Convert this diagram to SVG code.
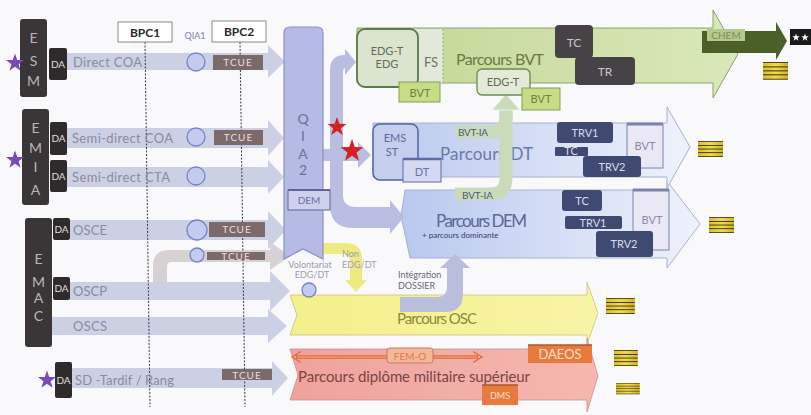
<svg xmlns="http://www.w3.org/2000/svg" width="811" height="415" viewBox="0 0 811 415">
<defs>
<linearGradient id="gGreen" x1="0" x2="1" y1="0" y2="0"><stop offset="0" stop-color="#c2d795"/><stop offset="1" stop-color="#d9e8b9"/></linearGradient>
<linearGradient id="gBlue" x1="0" x2="1" y1="0" y2="0"><stop offset="0" stop-color="#b8c8ee"/><stop offset="1" stop-color="#eef2fb"/></linearGradient>
<linearGradient id="gPink" x1="0" x2="1" y1="0" y2="0"><stop offset="0" stop-color="#efa29e"/><stop offset="1" stop-color="#f5b8b0"/></linearGradient>
<linearGradient id="gYellow" x1="0" x2="1" y1="0" y2="0"><stop offset="0" stop-color="#f4f08a"/><stop offset="1" stop-color="#f8f4a6"/></linearGradient>
<linearGradient id="gGal" x1="0" x2="1" y1="0" y2="0"><stop offset="0" stop-color="#d8be28"/><stop offset="0.5" stop-color="#f0dc50"/><stop offset="1" stop-color="#d0b424"/></linearGradient>
<path id="star" d="M0,-10 L2.35,-3.24 L9.51,-3.09 L3.8,1.24 L5.88,8.09 L0,4 L-5.88,8.09 L-3.8,1.24 L-9.51,-3.09 L-2.35,-3.24 Z"/>
<g id="galon">
<rect x="0" y="0" width="25" height="16" fill="url(#gGal)"/>
<rect x="0" y="0" width="25" height="0.8" fill="#3a3010"/>
<rect x="0" y="4" width="25" height="0.9" fill="#3a3010"/>
<rect x="0" y="7.6" width="25" height="0.9" fill="#3a3010"/>
<rect x="0" y="11.2" width="25" height="0.9" fill="#3a3010"/>
<rect x="0" y="15.2" width="25" height="0.8" fill="#3a3010"/>
</g>
</defs>
<style>
text{font-family:Lato,"Open Sans","DejaVu Sans",sans-serif}
.row{fill:#ccd0e5}
.lbl{fill:#8a8b9e;font-size:13px}
.blk{fill:#3a3536}
.da{fill:#2f2b2c}
.dat{fill:#e2dede;font-size:10px}
.let{fill:#bdb6b6;font-size:14px;text-anchor:middle}
.tcue{fill:#7c6a6b}
.tcuet{fill:#e8dede;font-size:10px;letter-spacing:1px;text-anchor:middle}
.circ{fill:#c3cbef;stroke:#7584c6;stroke-width:1.3}
.dash{stroke:#3a3a3a;stroke-width:1;stroke-dasharray:2 1.5;fill:none}
.bpc{fill:#ffffff;stroke:#8a8a8a;stroke-width:1}
.bpct{fill:#2a2a2a;font-size:12px;font-weight:bold;text-anchor:middle}
.navy{fill:#3f4a72}
.navyt{fill:#d8dcec;font-size:11px;text-anchor:middle}
.doc{fill:#e9e8f4;stroke:#7c82ac;stroke-width:1}
.doct{fill:#8a8aa8;font-size:11px;text-anchor:middle}
.gdoc{fill:#c7dc86;stroke:#86a050;stroke-width:1}
.gdoct{fill:#6f7f45;font-size:11px;text-anchor:middle}
.gray{fill:#474246}
.grayt{fill:#cbc4ca;font-size:12px;text-anchor:middle}
.orng{fill:#e97a3b}
.lav{fill:#b9bde1}
.c{text-anchor:middle}
</style>
<rect x="0" y="0" width="811" height="415" fill="#f9f9fb"/>

<!-- Parcours DEM -->
<g id="parcours-dem">
<path d="M405,190 H667 V181 L700,224 L667,268 V258 H410 L401,216 Z" fill="url(#gBlue)" stroke="#a8b0cf" stroke-width="1"/>
<text x="436" y="227" font-size="17" fill="#5a6898" textLength="91">Parcours DEM</text>
<text x="422" y="238" font-size="8" fill="#3a3a6a">+ parcours dominante</text>
<rect x="562" y="190" width="40" height="21" rx="3" class="navy"/>
<text x="582" y="205" class="navyt">TC</text>
<rect x="565" y="216" width="57" height="13" rx="2" class="navy"/>
<text x="593" y="226.5" class="navyt" font-size="10">TRV1</text>
<rect x="633" y="190" width="36" height="60" class="doc"/>
<path d="M633,190 h36" stroke="#7c82ac" stroke-width="3"/>
<text x="652" y="224" class="doct">BVT</text>
<rect x="596" y="231" width="57" height="26" rx="3" class="navy"/>
<text x="624" y="248" class="navyt" font-size="12">TRV2</text>
</g>

<!-- Parcours DT -->
<g id="parcours-dt">
<path d="M373,123 H667 V107 L690,147 L667,188 V177 H373 Z" fill="url(#gBlue)" stroke="#a8b0cf" stroke-width="1"/>
<text x="440" y="160" font-size="17" fill="#6a78a8" textLength="93">Parcours DT</text>
<rect x="557" y="122" width="56" height="21" rx="3" class="navy"/>
<text x="585" y="137" class="navyt" font-size="12">TRV1</text>
<rect x="555" y="147" width="33" height="9" rx="1" class="navy"/>
<text x="571" y="155" class="navyt" font-size="8">TC</text>
<rect x="627" y="124" width="36" height="44" class="doc"/>
<path d="M627,124 h36" stroke="#7c82ac" stroke-width="3"/>
<text x="645" y="150" class="doct">BVT</text>
<rect x="583" y="156" width="58" height="21" rx="3" class="navy"/>
<text x="612" y="171" class="navyt" font-size="12">TRV2</text>
</g>

<!-- Parcours BVT -->
<g id="parcours-bvt">
<path d="M357,28 H713 V10 L738,54 L713,98 V83 H357 Z" fill="url(#gGreen)" stroke="#8fa070" stroke-width="1"/>
<text x="456" y="65" font-size="16" fill="#6c7a40" textLength="88">Parcours BVT</text>
<rect x="555" y="25" width="38" height="33" rx="4" class="gray"/>
<text x="574" y="47" class="grayt">TC</text>
<rect x="575" y="57" width="60" height="28" rx="4" class="gray"/>
<text x="605" y="76" class="grayt">TR</text>
</g>

<!-- CHEM -->
<g id="chem">
<path d="M702,31 H776 V22 L787,41 L776,60 V53 H702 Z" fill="#4b5f29"/>
<rect x="707" y="29" width="38" height="12" fill="#b5c98d"/>
<text x="726" y="39" font-size="10" fill="#7d8c55" class="c">CHEM</text>
<rect x="790" y="29" width="21" height="16" fill="#1a1a1a"/>
<use href="#star" transform="translate(796,37.5) scale(0.4)" fill="#ffffff"/>
<use href="#star" transform="translate(805,37.5) scale(0.4)" fill="#ffffff"/>
</g>

<!-- Parcours OSC -->
<g id="parcours-osc">
<path d="M290,295 H587 V282 L598,313 L587,344 V335 H290 L297,315 Z" fill="url(#gYellow)" stroke="#c9c27a" stroke-width="0.8"/>
<text x="437" y="324" font-size="15" fill="#8c8a3c" class="c" textLength="80">Parcours OSC</text>
</g>

<!-- Parcours diplome militaire superieur -->
<g id="parcours-dms">
<path d="M290,349 H587 V338 L598,376 L587,412 V400 H290 L298,375 Z" fill="url(#gPink)" stroke="#c9908a" stroke-width="0.8"/>
<text x="298" y="382" font-size="15" fill="#7a4444" textLength="232">Parcours diplôme militaire supérieur</text>
</g>

<!-- connectors -->
<g id="connectors">
<path class="lav" d="M330,205 V70 Q330,55 345,55 V49 L356,62 L345,75 V68 Q343,68 343,72 V195 Q343,207 356,207 H390 V200 L404,217 L390,234 V228 H353 Q330,228 330,205 Z"/>
<path class="lav" d="M323,149 H358 V142 L371,155 L358,168 V161 H323 Z"/>
<path fill="#eeea80" d="M323,243 H345 Q362,243 362,258 V280 H367 L356,292 L345,280 H350 V262 Q350,254 343,254 H323 Z"/>
<path fill="#babedd" d="M400,312 H445 Q463,312 463,294 V268 H470 L455,254 L440,268 H447 V286 Q447,297 437,297 H400 Z"/>
<path d="M455,132 H490 Q506,132 506,116 V108" fill="none" stroke="#c9dbb9" stroke-width="13"/>
<path d="M455,194 H490 Q506,194 506,178 V108" fill="none" stroke="#c9dbb9" stroke-width="13"/>
<polygon points="492,110 506,94 520,110" fill="#c9dbb9" stroke="#eef3e8" stroke-width="1"/>
</g>
<text x="458" y="136" font-size="10" fill="#4d5882" textLength="30">BVT-IA</text>
<text x="462" y="199" font-size="10" fill="#4d5882" textLength="31">BVT-IA</text>

<!-- EMS ST and DT -->
<g id="ems-st">
<rect x="373" y="124" width="45" height="56" rx="7" fill="#c4cfee" stroke="#5463a2" stroke-width="1.5"/>
<text x="395" y="142" font-size="11" fill="#5a6a9a" class="c">EMS</text>
<text x="392" y="156" font-size="11" fill="#5a6a9a" class="c">ST</text>
</g>
<g id="dt-doc">
<rect x="403" y="159" width="38" height="23" fill="#d3d9f0" stroke="#5e6aa6" stroke-width="1"/>
<path d="M403,159 h38" stroke="#5e6aa6" stroke-width="2.5"/>
<text x="422" y="176" font-size="11" fill="#6a74a4" class="c">DT</text>
</g>

<!-- EDG boxes -->
<g id="fs">
<rect x="410" y="29" width="33" height="54" fill="#e3e9da"/>
<path d="M443,29 V83" stroke="#9aa88a" stroke-width="1" stroke-dasharray="2 2"/>
<text x="431" y="67" font-size="13" fill="#6a7560" class="c">FS</text>
</g>
<g id="edg">
<rect x="357" y="29" width="61" height="58" rx="8" fill="#dbe4cf" stroke="#5b7a45" stroke-width="1.8"/>
<text x="387" y="55" font-size="11" fill="#5f6d55" class="c">EDG-T</text>
<text x="387" y="68" font-size="11" fill="#5f6d55" class="c">EDG</text>
</g>
<g id="bvt-doc-1">
<rect x="399" y="82" width="41" height="20" class="gdoc"/>
<text x="420" y="97" class="gdoct">BVT</text>
</g>
<g id="edg-t">
<rect x="477" y="69" width="53" height="26" rx="5" fill="#e3ebd8" stroke="#6a8a50" stroke-width="1.3"/>
<text x="503" y="86" font-size="11" fill="#5f6d55" class="c">EDG-T</text>
</g>
<g id="bvt-doc-2">
<rect x="522" y="88" width="38" height="22" class="gdoc"/>
<text x="541" y="103" class="gdoct">BVT</text>
</g>

<!-- FEM-O, DAEOS, DMS -->
<g id="fem-o">
<path d="M296,357 H478" stroke="#e06a30" stroke-width="3.4"/>
<path d="M297,357 H477" stroke="#f3b0a6" stroke-width="1.2"/>
<polyline points="301,351.5 292,357 301,362.5" fill="none" stroke="#e06a30" stroke-width="1.3"/>
<polyline points="473,351.5 482,357 473,362.5" fill="none" stroke="#e06a30" stroke-width="1.3"/>
<rect x="387" y="348" width="46" height="15" rx="3" fill="#f2b898" stroke="#c87860" stroke-width="1"/>
<text x="410" y="359.5" font-size="10" fill="#e07848" class="c">FEM-O</text>
</g>
<g id="daeos">
<rect x="528" y="345" width="64" height="18" class="orng"/>
<path d="M528,345 h64" stroke="#a85a30" stroke-width="1.5"/>
<text x="560" y="359" font-size="13" fill="#fbe0d0" class="c">DAEOS</text>
</g>
<g id="dms">
<rect x="482" y="385" width="36" height="20" class="orng"/>
<path d="M482,385 h36" stroke="#a85a30" stroke-width="1.5"/>
<text x="500" y="399" font-size="9" fill="#fbe0d0" class="c">DMS</text>
</g>

<!-- row arrows -->
<g id="rows">
<path class="row" d="M67,53 H268 V45 L285,61.5 L268,78 V70 H67 Z"/>
<path class="row" d="M67,128 H268 V120 L284,138 L268,156 V148 H67 Z"/>
<path class="row" d="M67,167 H268 V160 L284,177 L268,194 V187 H67 Z"/>
<path class="row" d="M70,220 H268 V211 L286,230 L268,249 V240 H70 Z"/>
<path class="row" d="M70,282 H270 V271 L290,291 L270,311 V300 H70 Z"/>
<path fill="#d8d1d3" d="M153,282 V266 Q153,250 169,250 H270 V242 L290,256 L270,270 V262 H172 Q167,262 167,267 V282 Z"/>
<path class="row" d="M52,317 H268 V309 L287,326 L268,343 V335 H52 Z"/>
<path class="row" d="M72,368 H272 V361 L288,378 L272,396 V388 H72 Z"/>
</g>

<!-- QIA2 column -->
<g id="qia2">
<path d="M290,27 H317 Q323,27 323,33 V259 L303,249 L284,259 V33 Q284,27 290,27 Z" fill="#b5bbe4" stroke="#8990c4" stroke-width="1.2"/>
<text x="303" y="124" font-size="14" fill="#6b709c" class="c">Q</text>
<text x="303" y="141" font-size="14" fill="#6b709c" class="c">I</text>
<text x="303" y="159" font-size="14" fill="#6b709c" class="c">A</text>
<text x="303" y="175" font-size="14" fill="#6b709c" class="c">2</text>
<rect x="288" y="190" width="42" height="20" fill="#cdd1ec" stroke="#5e64a0" stroke-width="1"/>
<path d="M288,190 h42" stroke="#5e64a0" stroke-width="2"/>
<text x="309" y="204" font-size="10" fill="#6b709c" class="c">DEM</text>
<text x="310" y="268" font-size="9" fill="#9c9cb6" class="c">Volontariat</text>
<text x="312" y="278" font-size="9" fill="#9c9cb6" class="c">EDG/DT</text>
<circle cx="309" cy="290" r="7" class="circ"/>
</g>
<text x="342" y="257" font-size="9" fill="#9c9cb6">Non</text>
<text x="342" y="268" font-size="9" fill="#9c9cb6">EDG/DT</text>
<text x="398" y="278" font-size="9" fill="#6a6a7a">Intégration</text>
<text x="398" y="289" font-size="9" fill="#6a6a7a">DOSSIER</text>

<!-- red stars -->
<use href="#star" transform="translate(337,127) scale(1)" fill="#d42222"/>
<use href="#star" transform="translate(352,151) scale(1.2)" fill="#d42222"/>

<!-- dashed lines -->
<path class="dash" d="M145,42 L150,407"/>
<path class="dash" d="M240,42 L245,407"/>

<!-- BPC -->
<g id="bpc1"><rect x="118" y="22" width="54" height="20" class="bpc"/><text x="145" y="37" class="bpct">BPC1</text></g>
<g id="bpc2"><rect x="212" y="21" width="54" height="21" class="bpc"/><text x="239" y="36" class="bpct">BPC2</text></g>
<text x="195" y="39" font-size="9" fill="#7a80b8" class="c">QIA1</text>

<!-- ESM -->
<g id="esm">
<rect x="20" y="19" width="27" height="78" rx="3" class="blk"/>
<text x="33.5" y="43" class="let">E</text>
<text x="33.5" y="66" class="let">S</text>
<text x="33.5" y="86" class="let">M</text>
<rect x="49" y="48" width="18" height="32" rx="2" class="da"/>
<text x="58" y="68" class="dat c">DA</text>
<text x="73" y="67" class="lbl" textLength="69">Direct COA</text>
<circle cx="196" cy="62" r="9" class="circ"/>
<rect x="213" y="55" width="50" height="15" class="tcue"/>
<text x="238" y="66" class="tcuet">TCUE</text>
<use href="#star" transform="translate(15,63) scale(0.95)" fill="#7a48b8"/>
</g>

<!-- EMIA -->
<g id="emia">
<rect x="22" y="109" width="27" height="96" rx="3" class="blk"/>
<text x="35.5" y="133" class="let">E</text>
<text x="35.5" y="153" class="let">M</text>
<text x="35.5" y="172" class="let">I</text>
<text x="35.5" y="195" class="let">A</text>
<rect x="50" y="122" width="17" height="33" rx="2" class="da"/>
<text x="58.5" y="142" class="dat c">DA</text>
<rect x="50" y="160" width="17" height="32" rx="2" class="da"/>
<text x="58.5" y="180" class="dat c">DA</text>
<text x="72" y="143" class="lbl" textLength="101">Semi-direct COA</text>
<text x="72" y="182" class="lbl" textLength="98">Semi-direct CTA</text>
<circle cx="196" cy="137" r="9" class="circ"/>
<circle cx="196" cy="176" r="9" class="circ"/>
<rect x="214" y="130" width="49" height="15" class="tcue"/>
<text x="238.5" y="141" class="tcuet">TCUE</text>
<use href="#star" transform="translate(15,160) scale(0.95)" fill="#7a48b8"/>
</g>

<!-- EMAC -->
<g id="emac">
<rect x="25" y="218" width="27" height="129" rx="3" class="blk"/>
<text x="38.5" y="264" class="let">E</text>
<text x="38.5" y="287" class="let">M</text>
<text x="38.5" y="303" class="let">A</text>
<text x="38.5" y="321" class="let">C</text>
<rect x="53" y="218" width="17" height="22" rx="2" class="da"/>
<text x="61.5" y="233" class="dat c">DA</text>
<rect x="53" y="277" width="17" height="23" rx="2" class="da"/>
<text x="61.5" y="292" class="dat c">DA</text>
<text x="73" y="235" class="lbl" textLength="34">OSCE</text>
<text x="73" y="296" class="lbl" textLength="34">OSCP</text>
<text x="73" y="331" class="lbl" textLength="34">OSCS</text>
<circle cx="197" cy="230" r="10" class="circ"/>
<rect x="209" y="222" width="56" height="15" class="tcue"/>
<text x="237" y="233" class="tcuet">TCUE</text>
<circle cx="197" cy="255" r="7" class="circ"/>
<rect x="207" y="252" width="58" height="8" class="tcue"/>
<text x="236" y="259.5" class="tcuet" font-size="8">TCUE</text>
</g>

<!-- SD Tardif -->
<g id="sd-tardif">
<rect x="55" y="362" width="17" height="36" rx="2" class="da"/>
<text x="63.5" y="384" class="dat c">DA</text>
<text x="75" y="385" class="lbl" textLength="99">SD -Tardif / Rang</text>
<rect x="222" y="369" width="50" height="11" class="tcue"/>
<text x="247" y="378.5" class="tcuet" font-size="9">TCUE</text>
<use href="#star" transform="translate(47,380) scale(0.95)" fill="#7a48b8"/>
</g>

<!-- insignia -->
<g id="galons">
<use href="#galon" transform="translate(763,62) scale(1,1.1)"/>
<use href="#galon" transform="translate(698,141)"/>
<use href="#galon" transform="translate(709,217)"/>
<use href="#galon" transform="translate(606,298) scale(1.15,1)"/>
<use href="#galon" transform="translate(614,350) scale(0.95,1)"/>
<use href="#galon" transform="translate(616,383) scale(0.95,0.7)"/>
</g>
</svg>
